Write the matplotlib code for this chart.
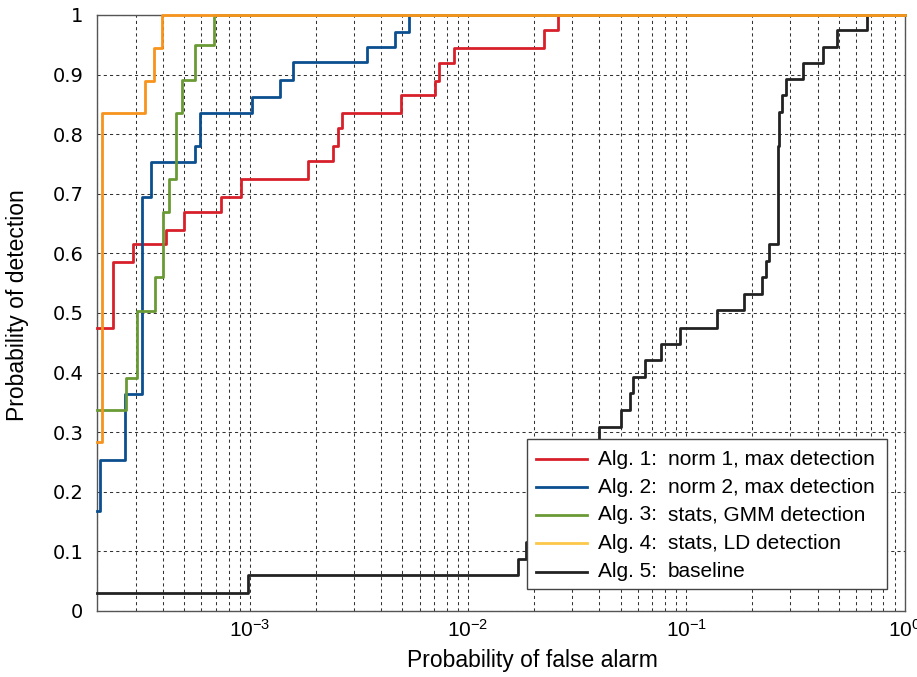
import matplotlib
matplotlib.use("Agg")
import matplotlib.pyplot as plt
from matplotlib.lines import Line2D
from matplotlib.patches import Rectangle
from matplotlib.ticker import LogLocator, FixedLocator

plt.rcParams['font.family'] = ['Liberation Sans', 'DejaVu Sans']

# ---- data ----
alg1_x = [2e-4, 2.35e-4, 2.91e-4, 4.11e-4, 5.01e-4, 7.38e-4, 9.11e-4, 1.84e-3, 2.41e-3,
          2.53e-3, 2.64e-3, 4.94e-3, 7.08e-3, 7.33e-3, 8.61e-3, 2.22e-2, 2.58e-2, 1.0]
alg1_y = [0.475, 0.585, 0.615, 0.640, 0.670, 0.695, 0.725, 0.755, 0.780,
          0.810, 0.835, 0.865, 0.890, 0.920, 0.945, 0.975, 1.0, 1.0]

alg2_x = [2e-4, 2.06e-4, 2.68e-4, 3.22e-4, 3.51e-4, 5.61e-4, 5.89e-4, 1.02e-3, 1.37e-3,
          1.57e-3, 3.43e-3, 4.63e-3, 5.34e-3, 1.0]
alg2_y = [0.168, 0.253, 0.364, 0.695, 0.753, 0.781, 0.835, 0.863, 0.891,
          0.921, 0.947, 0.972, 1.0, 1.0]

alg3_x = [2e-4, 2.70e-4, 3.04e-4, 3.66e-4, 3.98e-4, 4.28e-4, 4.58e-4, 4.89e-4, 5.62e-4, 6.83e-4, 1.0]
alg3_y = [0.337, 0.391, 0.503, 0.560, 0.669, 0.725, 0.836, 0.891, 0.949, 1.0, 1.0]

alg4_x = [2e-4, 2.11e-4, 3.30e-4, 3.62e-4, 3.95e-4, 1.0]
alg4_y = [0.283, 0.835, 0.890, 0.945, 1.0, 1.0]

alg5_x = [2e-4, 9.8e-4, 0.0170, 0.01837, 0.0397, 0.0501, 0.0551, 0.0570, 0.0646, 0.0764,
          0.0937, 0.138, 0.184, 0.223, 0.232, 0.240, 0.262, 0.267, 0.274, 0.286,
          0.343, 0.422, 0.492, 0.671, 1.0]
alg5_y = [0.031, 0.061, 0.087, 0.115, 0.309, 0.338, 0.365, 0.392, 0.421, 0.448,
          0.475, 0.505, 0.532, 0.560, 0.587, 0.615, 0.781, 0.837, 0.865, 0.893,
          0.920, 0.946, 0.975, 1.0, 1.0]

labels_a = ["Alg. 1:", "Alg. 2:", "Alg. 3:", "Alg. 4:", "Alg. 5:"]
labels_b = ["norm 1, max detection", "norm 2, max detection", "stats, GMM detection",
            "stats, LD detection", "baseline"]
line_colors = ["#d7202a", "#0b4f8f", "#6a9a34", "#f7941d", "#222222"]
legend_colors = ["#d7202a", "#0b4f8f", "#6a9a34", "#fcc84a", "#222222"]

yticks = [0, 0.1, 0.2, 0.3, 0.4, 0.5, 0.6, 0.7, 0.8, 0.9, 1.0]
ytick_labels = ["0", "0.1", "0.2", "0.3", "0.4", "0.5", "0.6", "0.7", "0.8", "0.9", "1"]

# ---- figure ----
W, H = 917, 677
fig = plt.figure(figsize=(W / 100, H / 100), dpi=100)
L, R, T, B = 97.3, 904.5, 15, 611
ax = fig.add_axes([L / W, 1 - B / H, (R - L) / W, (B - T) / H])

series = [(alg1_x, alg1_y), (alg2_x, alg2_y), (alg3_x, alg3_y), (alg4_x, alg4_y), (alg5_x, alg5_y)]
zorders = [4, 4, 4, 6, 3]
for (xs, ys), c, z in zip(series, line_colors, zorders):
    ax.step(xs, ys, where='post', color=c, lw=2.0, zorder=z, clip_on=False)

ax.set_xscale('log')
ax.set_xlim(2e-4, 1.0)
ax.set_ylim(0, 1)
ax.xaxis.set_major_locator(LogLocator(base=10, numticks=10))
ax.xaxis.set_minor_locator(LogLocator(base=10, subs=[2, 3, 4, 5, 6, 7, 8, 9], numticks=20))
ax.yaxis.set_major_locator(FixedLocator(yticks))
ax.set_yticklabels(ytick_labels)

gkw = dict(color='#333333', lw=0.75, linestyle=(0, (3, 3)))
ax.grid(True, which='major', axis='both', **gkw)
ax.grid(True, which='minor', axis='x', **gkw)
ax.set_axisbelow(True)

ax.tick_params(axis='both', which='both', length=0)
ax.tick_params(axis='y', pad=10)
ax.tick_params(axis='x', labelsize=15, pad=6)
for lab in ax.get_yticklabels():
    lab.set_family(['DejaVu Sans'])
    lab.set_fontsize(14)
for s in ax.spines.values():
    s.set_color('#555555')
    s.set_linewidth(1.0)

ax.set_xlabel("Probability of false alarm", fontsize=16.5)
ax.set_ylabel("Probability of detection", fontsize=16.5)
ax.xaxis.set_label_coords((532 - L) / (R - L), -(661 - B) / (B - T))
ax.yaxis.set_label_coords((18 - L) / (R - L), (B - 305) / (B - T))
ax.xaxis.label.set_va('center')
ax.yaxis.label.set_va('center')

# ---- legend (manual, two aligned text columns) ----
def fx(px):
    return (px - L) / (R - L)

def fy(py):
    return (B - py) / (B - T)

box = Rectangle((fx(527), fy(589)), fx(887) - fx(527), fy(439) - fy(589),
                transform=ax.transAxes, facecolor='white', edgecolor='#444444',
                lw=1.0, zorder=10, clip_on=False)
ax.add_patch(box)
row_y = [459.3, 487.3, 515.0, 543.3, 571.7]
for ry, la, lb, c in zip(row_y, labels_a, labels_b, legend_colors):
    ax.add_line(Line2D([fx(536), fx(587)], [fy(ry), fy(ry)], transform=ax.transAxes,
                       color=c, lw=2.0, zorder=11, clip_on=False))
    ax.text(fx(598), fy(ry), la, transform=ax.transAxes, fontsize=15, va='center',
            ha='left', zorder=12)
    ax.text(fx(668), fy(ry), lb, transform=ax.transAxes, fontsize=15, va='center',
            ha='left', zorder=12)

fig.savefig("out.png", dpi=100)
